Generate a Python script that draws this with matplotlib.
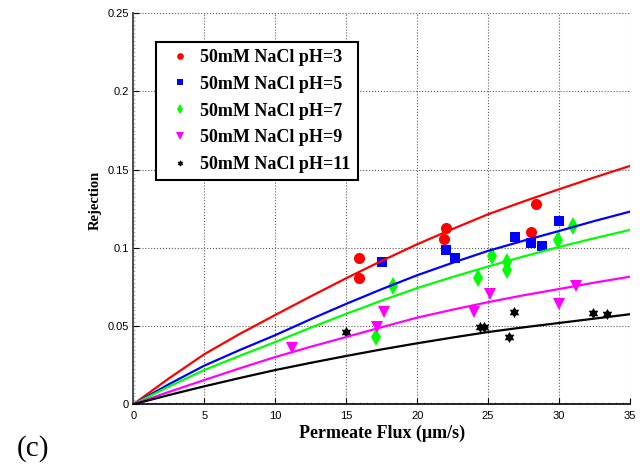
import numpy as np
import matplotlib
matplotlib.use('Agg')
import matplotlib.pyplot as plt
from matplotlib.ticker import MultipleLocator
from matplotlib.path import Path

# measured points (flux in um/s, rejection)
flux_ph3 = [15.9, 15.9, 22.0, 21.9, 28.4, 28.0]
rej_ph3 = [0.0933, 0.0810, 0.1125, 0.1057, 0.1279, 0.1100]

flux_ph5 = [17.5, 22.0, 22.7, 26.9, 28.0, 28.8, 30.0]
rej_ph5 = [0.0908, 0.0987, 0.0933, 0.1068, 0.1030, 0.1012, 0.1172]

flux_ph7 = [18.3, 17.1, 24.3, 25.3, 26.3, 26.3, 29.9, 31.0]
rej_ph7 = [0.0759, 0.0433, 0.0810, 0.0951, 0.0908, 0.0859, 0.1051, 0.1140]

flux_ph9 = [11.2, 17.2, 17.7, 24.0, 25.1, 30.0, 31.2]
rej_ph9 = [0.0362, 0.0497, 0.0588, 0.0588, 0.0705, 0.0639, 0.0759]

flux_ph11 = [15.0, 24.4, 24.7, 26.8, 26.5, 32.4, 33.4]
rej_ph11 = [0.0460, 0.0497, 0.0497, 0.0588, 0.0433, 0.0582, 0.0575]

# model curves
flux_fit = [0, 2.5, 5, 7.5, 10, 12.5, 15, 17.5, 20, 22.5, 25, 27.5, 30, 32.5, 35]
fit_ph3 = [0, 0.0165, 0.0320, 0.0450, 0.0571, 0.0690, 0.0806, 0.0917, 0.1023,
           0.1121, 0.1215, 0.1297, 0.1375, 0.1451, 0.1524]
fit_ph5 = [0, 0.0128, 0.0247, 0.0347, 0.0442, 0.0544, 0.0642, 0.0736, 0.0825,
           0.0905, 0.0981, 0.1046, 0.1108, 0.1172, 0.1232]
fit_ph7 = [0, 0.0113, 0.0219, 0.0310, 0.0398, 0.0490, 0.0578, 0.0663, 0.0743,
           0.0814, 0.0881, 0.0945, 0.1006, 0.1062, 0.1115]
fit_ph9 = [0, 0.0079, 0.0155, 0.0230, 0.0302, 0.0368, 0.0430, 0.0493, 0.0554,
           0.0605, 0.0653, 0.0697, 0.0737, 0.0778, 0.0816]
fit_ph11 = [0, 0.0059, 0.0115, 0.0168, 0.0219, 0.0265, 0.0309, 0.0351, 0.0390,
            0.0427, 0.0462, 0.0492, 0.0520, 0.0548, 0.0576]

labels = ['50mM NaCl pH=3', '50mM NaCl pH=5', '50mM NaCl pH=7',
          '50mM NaCl pH=9', '50mM NaCl pH=11']

x_ticks = [0, 5, 10, 15, 20, 25, 30, 35]
y_ticks = [0, 0.05, 0.1, 0.15, 0.2, 0.25]
y_tick_labels = ['0', '0.05', '0.1', '0.15', '0.2', '0.25']

# hexagram marker (Matlab 'h')
ang = np.pi / 2 + np.arange(12) * np.pi / 6
rad = np.where(np.arange(12) % 2 == 0, 1.0, 0.577)
hex_verts = np.column_stack([rad * np.cos(ang), rad * np.sin(ang)])
hexagram = Path(np.vstack([hex_verts, hex_verts[:1]]), closed=True)

series = [
    (flux_ph3, rej_ph3, fit_ph3, '#ff0000', 'o', 8),
    (flux_ph5, rej_ph5, fit_ph5, '#0000ff', 's', 6.5),
    (flux_ph7, rej_ph7, fit_ph7, '#00ff00', 'd', 9),
    (flux_ph9, rej_ph9, fit_ph9, '#ff00ff', 'v', 8.5),
    (flux_ph11, rej_ph11, fit_ph11, '#000000', hexagram, 8),
]

serif = ['Liberation Serif', 'DejaVu Serif']
sans = ['Liberation Sans', 'DejaVu Sans']

fig = plt.figure(figsize=(6.43, 4.66), dpi=100)
ax = fig.add_axes([0.2073, 0.1324, 0.7725, 0.8391])

handles = []
for (fx, ry, fit, col, mk, ms), lab in zip(series, labels):
    h, = ax.plot(fx, ry, linestyle='none', marker=mk, color=col,
                 markersize=ms, markeredgewidth=0, label=lab)
    handles.append(h)
for (fx, ry, fit, col, mk, ms) in series:
    ax.plot(flux_fit, fit, color=col, linewidth=1.6)

ax.set_xlim(0, 35)
ax.set_ylim(0, 0.25)
ax.set_xticks(x_ticks)
ax.set_yticks(y_ticks)
ax.set_yticklabels(y_tick_labels)
for t in ax.get_xticklabels() + ax.get_yticklabels():
    t.set_family(sans)
    t.set_fontsize(8)

ax.xaxis.set_minor_locator(MultipleLocator(0.5))
ax.yaxis.set_minor_locator(MultipleLocator(0.0025))
ax.tick_params(which='major', direction='in', length=4, width=0.8)
ax.tick_params(axis='x', which='major', pad=5)
ax.tick_params(axis='y', which='major', pad=3)
ax.tick_params(which='minor', direction='in', length=1.5, width=0.4, colors='0.45')

ax.grid(True, which='major', linestyle=':', color='0.35', linewidth=0.8)
ax.spines['top'].set_visible(False)
ax.spines['right'].set_visible(False)
ax.spines['left'].set_color('0.3')
ax.spines['left'].set_linewidth(1.4)
ax.spines['bottom'].set_linewidth(1.2)

ax.set_xlabel('Permeate Flux (\u03bcm/s)', family=serif, fontweight='bold', fontsize=13)
ax.set_ylabel('Rejection', family=serif, fontweight='bold', fontsize=10.5)
ax.xaxis.set_label_coords(0.5, -0.052)
ax.yaxis.set_label_coords(-0.064, 0.522)

leg = ax.legend(handles=handles, loc='upper left', bbox_to_anchor=(0.045, 0.927),
                borderaxespad=0, prop={'family': serif, 'weight': 'bold', 'size': 13},
                markerscale=0.6, handlelength=1.9, handletextpad=0.17,
                labelspacing=0.54, borderpad=0.4, fancybox=False,
                framealpha=1, edgecolor='black')
leg.get_frame().set_linewidth(1.5)

fig.text(0.052, 0.038, '(c)', family=serif, fontsize=21, ha='center', va='center')

fig.savefig('out.png', dpi=100)
